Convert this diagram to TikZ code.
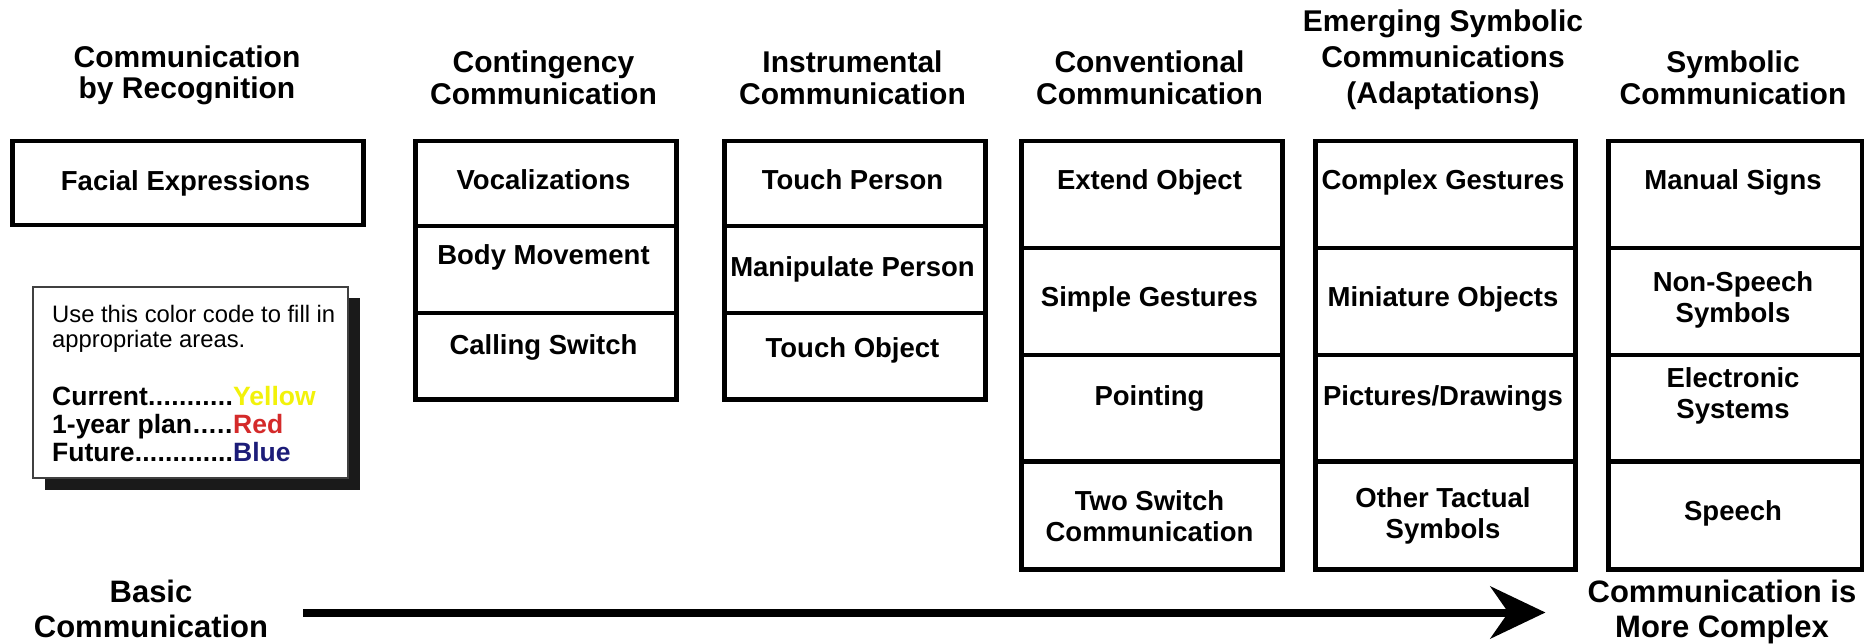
\documentclass[tikz,border=0pt]{standalone}
\usepackage{fontspec}
\setmainfont{Liberation Sans}
\usetikzlibrary{arrows.meta}
\definecolor{legyellow}{HTML}{F2F20A}
\definecolor{legred}{HTML}{D42A2A}
\definecolor{legblue}{HTML}{1C1C78}
\definecolor{shadowgray}{HTML}{1A1A1A}
\newcommand{\mlines}[1]{\begin{tabular}[t]{@{}c@{}}#1\end{tabular}}
\newcommand{\legline}[2]{\hbox to 181pt{#1\xleaders\hbox{.}\hfill}#2}
\begin{document}
\begin{tikzpicture}[x=1pt,y=-1pt,
  title/.style={font=\fontsize{30}{#1}\selectfont\bfseries, inner sep=0pt, anchor=base},
  title/.default=31,
  endtext/.style={font=\fontsize{31}{35}\selectfont\bfseries, inner sep=0pt, anchor=base},
  cell/.style={draw=black, line width=4.5pt, rectangle, inner sep=0pt, anchor=north west},
  lbl/.style={font=\fontsize{27.5}{31}\selectfont\bfseries, inner sep=0pt, anchor=base},
  legtext/.style={font=\fontsize{23.8}{25}\selectfont, inner sep=0pt, anchor=base west},
  legbold/.style={font=\fontsize{26.5}{28}\selectfont\bfseries, inner sep=0pt, anchor=base west},
  bigarrow/.style={line width=8pt, -{Stealth[length=55pt,width=52pt]}}
]
\useasboundingbox (0,0) rectangle (1864,644);
\fill[white] (0,0) rectangle (1864,644);

% titles
\node[title=30] (t1) at (187,68) {\mlines{Communication\\by Recognition}};
\node[title] (t2) at (543.5,73) {\mlines{Contingency\\Communication}};
\node[title] (t3) at (852.5,73) {\mlines{Instrumental\\Communication}};
\node[title] (t4) at (1149.5,73) {\mlines{Conventional\\Communication}};
\node[title=36] (t5) at (1443,32) {\mlines{Emerging Symbolic\\Communications\\(Adaptations)}};
\node[title] (t6) at (1733,73) {\mlines{Symbolic\\Communication}};

% column 1
\node[cell, minimum width=351pt, minimum height=84pt] (c11) at (10,139) {};
\node[lbl] (l11) at (185.5,191) {Facial Expressions};

% column 2
\node[cell, minimum width=261pt, minimum height=85pt] (c21) at (413,139) {};
\node[cell, minimum width=261pt, minimum height=87pt] (c22) at (413,224) {};
\node[cell, minimum width=261pt, minimum height=86pt] (c23) at (413,311) {};
\node[lbl] (l21) at (543.5,190) {Vocalizations};
\node[lbl] (l22) at (543.5,265) {Body Movement};
\node[lbl] (l23) at (543.5,355) {Calling Switch};

% column 3
\node[cell, minimum width=261pt, minimum height=85pt] (c31) at (722,139) {};
\node[cell, minimum width=261pt, minimum height=87pt] (c32) at (722,224) {};
\node[cell, minimum width=261pt, minimum height=86pt] (c33) at (722,311) {};
\node[lbl] (l31) at (852.5,190) {Touch Person};
\node[lbl] (l32) at (852.5,277) {Manipulate Person};
\node[lbl] (l33) at (852.5,358) {Touch Object};

% column 4
\node[cell, minimum width=261pt, minimum height=107pt] (c41) at (1019,139) {};
\node[cell, minimum width=261pt, minimum height=107pt] (c42) at (1019,246) {};
\node[cell, minimum width=261pt, minimum height=106pt] (c43) at (1019,353) {};
\node[cell, minimum width=261pt, minimum height=108pt] (c44) at (1019,459) {};
\node[lbl] (l41) at (1149.5,190) {Extend Object};
\node[lbl] (l42) at (1149.5,307) {Simple Gestures};
\node[lbl] (l43) at (1149.5,405) {Pointing};
\node[lbl] (l44) at (1149.5,510) {\mlines{Two Switch\\Communication}};

% column 5
\node[cell, minimum width=260pt, minimum height=107pt] (c51) at (1313,139) {};
\node[cell, minimum width=260pt, minimum height=107pt] (c52) at (1313,246) {};
\node[cell, minimum width=260pt, minimum height=106pt] (c53) at (1313,353) {};
\node[cell, minimum width=260pt, minimum height=108pt] (c54) at (1313,459) {};
\node[lbl] (l51) at (1443,190) {Complex Gestures};
\node[lbl] (l52) at (1443,307) {Miniature Objects};
\node[lbl] (l53) at (1443,405) {Pictures/Drawings};
\node[lbl] (l54) at (1443,507) {\mlines{Other Tactual\\Symbols}};

% column 6
\node[cell, minimum width=254pt, minimum height=107pt] (c61) at (1606,139) {};
\node[cell, minimum width=254pt, minimum height=107pt] (c62) at (1606,246) {};
\node[cell, minimum width=254pt, minimum height=106pt] (c63) at (1606,353) {};
\node[cell, minimum width=254pt, minimum height=108pt] (c64) at (1606,459) {};
\node[lbl] (l61) at (1733,190) {Manual Signs};
\node[lbl] (l62) at (1733,292) {\mlines{Non-Speech\\Symbols}};
\node[lbl] (l63) at (1733,388) {\mlines{Electronic\\Systems}};
\node[lbl] (l64) at (1733,520) {Speech};

% legend
\fill[shadowgray] (45,298) rectangle (360,490);
\draw[fill=white, draw=black!75, line width=2.5pt] (33,287) rectangle (348,478);
\node[legtext] (leg1) at (52,323) {Use this color code to fill in};
\node[legtext] (leg2) at (52,348) {appropriate areas.};
\node[legbold] (leg3) at (52,405) {\legline{Current}{\textcolor{legyellow}{Yellow}}};
\node[legbold] (leg4) at (52,433) {\legline{1-year plan}{\textcolor{legred}{Red}}};
\node[legbold] (leg5) at (52,461) {\legline{Future}{\textcolor{legblue}{Blue}}};

% bottom arrow
\node[endtext] (basic) at (151,602) {\mlines{Basic\\Communication}};
\node[endtext] (complex) at (1722,602) {\mlines{Communication is\\More Complex}};
\draw[bigarrow, shorten <=35pt, shorten >=42pt] (basic.east) -- (complex.west);
\end{tikzpicture}
\end{document}
